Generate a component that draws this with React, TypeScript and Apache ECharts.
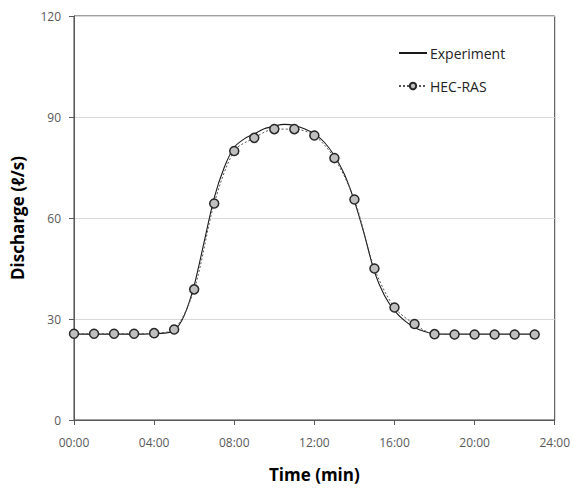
import React, { useEffect, useRef } from "react";
import * as echarts from "echarts";

const expTime = [0, 0.5, 1, 1.5, 2, 2.5, 3, 3.5, 4, 4.5, 5, 5.5, 6, 6.5, 7, 7.5, 8, 8.5, 9, 9.5, 10, 10.5, 11, 11.5, 12, 12.5, 13, 13.5, 14, 14.5, 15, 15.5, 16, 16.5, 17, 17.5, 18, 18.5, 19, 19.5, 20, 20.5, 21, 21.5, 22, 22.5, 23];
const expValues = [25.5, 25.5, 25.5, 25.5, 25.5, 25.5, 25.5, 25.5, 25.6, 25.8, 26.5, 31, 40, 53, 66, 75, 81, 83.5, 85, 86.5, 87.3, 87.8, 87.5, 86.5, 85, 82.5, 78.5, 73, 65, 55, 44, 37, 32.5, 29.5, 27.5, 26.3, 25.6, 25.5, 25.5, 25.5, 25.5, 25.5, 25.5, 25.5, 25.5, 25.5, 25.5];

const rasTime = [0, 1, 2, 3, 4, 5, 6, 7, 8, 9, 10, 11, 12, 13, 14, 15, 16, 17, 18, 19, 20, 21, 22, 23];
const rasValues = [25.6, 25.6, 25.6, 25.6, 25.8, 26.9, 38.8, 64.3, 79.9, 83.8, 86.4, 86.4, 84.5, 77.8, 65.5, 45, 33.4, 28.5, 25.5, 25.4, 25.4, 25.4, 25.4, 25.4];

const xTicks = ["00:00", "04:00", "08:00", "12:00", "16:00", "20:00", "24:00"];

export default function App() {
  const ref = useRef<HTMLDivElement>(null);
  useEffect(() => {
    if (!ref.current) return;
    const chart = echarts.init(ref.current, undefined, { renderer: "svg" });
    const font = "'Open Sans', 'Noto Sans', sans-serif";
    chart.setOption({
      animation: false,
      backgroundColor: "#fff",
      textStyle: { fontFamily: font },
      grid: {
        left: 74,
        right: 17,
        top: 16,
        bottom: 65,
        show: true,
        borderColor: "#404040",
        borderWidth: 1,
      },
      legend: {
        left: 393,
        top: 41,
        orient: "vertical",
        itemGap: 19,
        itemWidth: 28,
        itemHeight: 8,
        textStyle: { fontSize: 14, color: "#222", fontFamily: font, padding: [0, 0, 0, -2] },
        data: [
          { name: "Experiment", itemStyle: { opacity: 0 } },
          { name: "HEC-RAS" },
        ],
      },
      xAxis: {
        type: "value",
        min: 0,
        max: 24,
        interval: 4,
        name: "Time (min)",
        nameLocation: "middle",
        nameGap: 46,
        nameTextStyle: { fontSize: 17, fontWeight: "bold", color: "#000", fontFamily: font },
        axisLine: { lineStyle: { color: "#595959", width: 1 } },
        axisTick: { show: true, inside: false, length: 5, lineStyle: { color: "#595959" } },
        axisLabel: {
          fontSize: 12,
          color: "#595959",
          margin: 16,
          formatter: (v: number) => xTicks[Math.round(v / 4)] ?? "",
        },
        splitLine: { show: false },
      },
      yAxis: {
        type: "value",
        min: 0,
        max: 120,
        interval: 30,
        name: "Discharge (ℓ/s)",
        nameLocation: "middle",
        nameGap: 48,
        nameTextStyle: { fontSize: 17, fontWeight: "bold", color: "#000", fontFamily: font },
        axisLine: { show: true, lineStyle: { color: "#595959", width: 1 } },
        axisTick: { show: true, inside: false, length: 5, lineStyle: { color: "#595959" } },
        axisLabel: { fontSize: 12, color: "#595959", margin: 13 },
        splitLine: { show: true, lineStyle: { color: "#d9d9d9", width: 1 } },
      },
      series: [
        {
          name: "Experiment",
          type: "line",
          data: expTime.map((t, i) => [t, expValues[i]]),
          smooth: 0.3,
          symbol: "none",
          lineStyle: { color: "#1a1a1a", width: 1.1 },
          itemStyle: { color: "#1a1a1a" },
          z: 3,
        },
        {
          name: "HEC-RAS",
          type: "line",
          data: rasTime.map((t, i) => [t, rasValues[i]]),
          smooth: 0.3,
          symbol: "circle",
          symbolSize: 9,
          lineStyle: { color: "#555", width: 1, type: [2, 2] },
          itemStyle: { color: "#bfbfbf", borderColor: "#262626", borderWidth: 1.5 },
          z: 4,
        },
      ],
    });
    return () => chart.dispose();
  }, []);
  return (
    <div
      ref={ref}
      style={{ position: "fixed", left: 0, top: 0, width: 573, height: 488 }}
    />
  );
}
